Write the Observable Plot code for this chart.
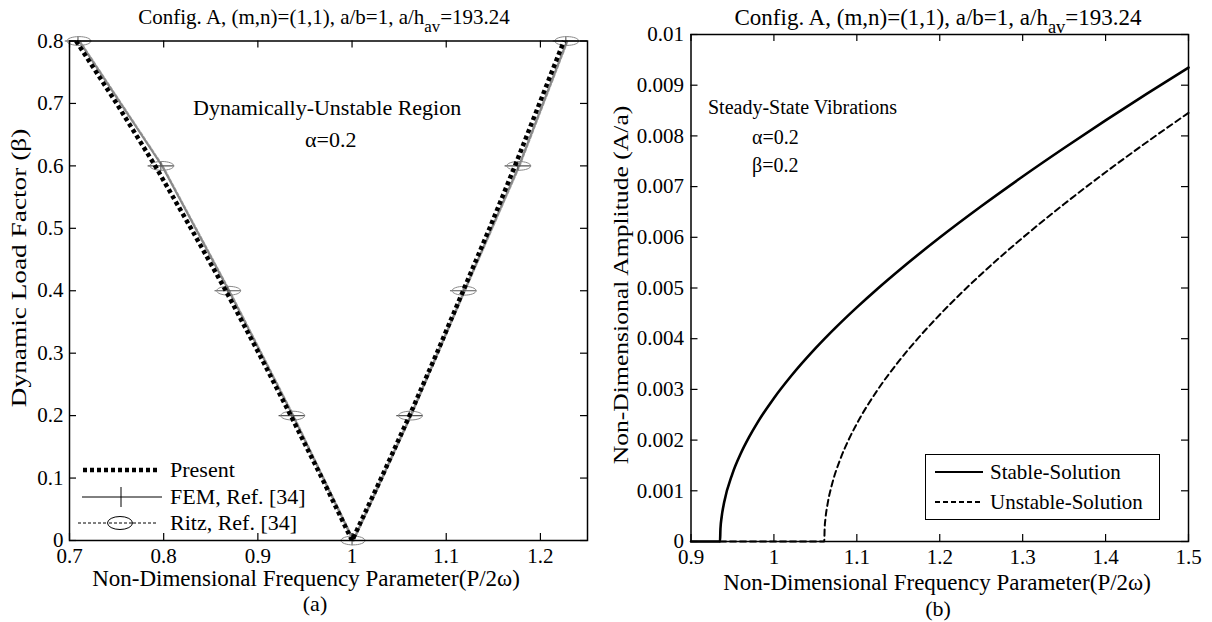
<!DOCTYPE html>
<html>
<head>
<meta charset="utf-8">
<script src="https://cdn.jsdelivr.net/npm/d3@7"></script>
<script src="https://cdn.jsdelivr.net/npm/@observablehq/plot@0.6"></script>
<style>
  html, body { margin: 0; padding: 0; background: #fff; }
  #wrap { position: relative; width: 1212px; height: 622px; overflow: hidden; font-family: "Liberation Serif", "DejaVu Serif", serif; color: #000; }
  .txt { position: absolute; white-space: nowrap; font-size: 21px; line-height: 1; }
  .c { transform: translate(-50%, -50%); }
  .l { transform: translate(0, -50%); }
  .rot { transform: translate(-50%, -50%) rotate(-90deg) scaleX(var(--sx, 1)); }
  .sub { font-size: 0.8em; position: relative; top: 0.45em; }
  .abs { position: absolute; }
</style>
</head>
<body>
<div id="wrap"></div>
<script>
// ---------- Panel (a) data ----------
const presentBeta  = [0, 0.1, 0.2, 0.3, 0.4, 0.5, 0.6, 0.7, 0.8];
const presentLeft  = [1.000, 0.968, 0.935, 0.901, 0.866, 0.829, 0.791, 0.750, 0.707];
const presentRight = [1.000, 1.031, 1.061, 1.090, 1.118, 1.146, 1.173, 1.199, 1.225];
const refBeta  = [0, 0.2, 0.4, 0.6, 0.8];
const femLeft  = [1.000, 0.936, 0.868, 0.797, 0.709];
const femRight = [1.000, 1.061, 1.118, 1.176, 1.227];
const ritzLeft  = [1.001, 0.937, 0.869, 0.798, 0.710];
const ritzRight = [1.001, 1.062, 1.119, 1.177, 1.228];
const xTicksA = [0.7, 0.8, 0.9, 1, 1.1, 1.2];
const yTicksA = [0, 0.1, 0.2, 0.3, 0.4, 0.5, 0.6, 0.7, 0.8];

// ---------- Panel (b) data ----------
const stableX = [0.9, 0.935, 0.9355, 0.937, 0.94, 0.95, 0.96, 0.97, 0.98, 1.0, 1.02, 1.05, 1.075, 1.1, 1.125, 1.15, 1.2, 1.25, 1.3, 1.35, 1.4, 1.45, 1.5];
const stableY = [0, 0, 0.000246, 0.000488, 0.000772, 0.00134, 0.001735, 0.002058, 0.00234, 0.002827, 0.003249, 0.003808, 0.004228, 0.004618, 0.004986, 0.005336, 0.005995, 0.006612, 0.007199, 0.007761, 0.008305, 0.008833, 0.009348];
const unstableX = [0.935, 1.0607, 1.0612, 1.062, 1.065, 1.07, 1.08, 1.09, 1.1, 1.125, 1.15, 1.175, 1.2, 1.25, 1.3, 1.35, 1.4, 1.45, 1.5];
const unstableY = [0, 0, 0.000269, 0.000425, 0.000766, 0.001124, 0.001622, 0.002002, 0.002324, 0.002989, 0.003542, 0.00403, 0.004473, 0.005272, 0.005991, 0.006656, 0.007283, 0.00788, 0.008454];
const xTicksB = [0.9, 1, 1.1, 1.2, 1.3, 1.4, 1.5];
const yTicksB = [0, 0.001, 0.002, 0.003, 0.004, 0.005, 0.006, 0.007, 0.008, 0.009, 0.01];

// ---------- helpers ----------
const FONT = "Liberation Serif";
const TICK = 7;

function boxTicks(xt, yt, pw, ph) {
  return [
    Plot.ruleX(xt, {x: d => d, insetTop: ph - TICK, stroke: "black", strokeWidth: 1.2}),
    Plot.ruleX(xt, {x: d => d, insetBottom: ph - TICK, stroke: "black", strokeWidth: 1.2}),
    Plot.ruleY(yt, {y: d => d, insetRight: pw - TICK, stroke: "black", strokeWidth: 1.2}),
    Plot.ruleY(yt, {y: d => d, insetLeft: pw - TICK, stroke: "black", strokeWidth: 1.2})
  ];
}

const plusSymbol = {
  draw(ctx, size) {
    const r = Math.sqrt(size / Math.PI);
    ctx.moveTo(-3.3 * r, 0); ctx.lineTo(3.3 * r, 0);
    ctx.moveTo(0, -1.2 * r); ctx.lineTo(0, 1.2 * r);
  }
};
const ellipseSymbol = {
  draw(ctx, size) {
    const r = Math.sqrt(size / Math.PI);
    const a = 3.0 * r, b = 1.1 * r, k = 0.5523;
    ctx.moveTo(a, 0);
    ctx.bezierCurveTo(a, k * b, k * a, b, 0, b);
    ctx.bezierCurveTo(-k * a, b, -a, k * b, -a, 0);
    ctx.bezierCurveTo(-a, -k * b, -k * a, -b, 0, -b);
    ctx.bezierCurveTo(k * a, -b, a, -k * b, a, 0);
    ctx.closePath();
  }
};

// ---------- Panel (a) ----------
const presentPts = presentBeta.map((b, i) => ({x: presentLeft[i], y: b})).reverse()
  .concat(presentBeta.map((b, i) => ({x: presentRight[i], y: b})).slice(1));
const femPts = refBeta.map((b, i) => ({x: femLeft[i], y: b})).reverse()
  .concat(refBeta.map((b, i) => ({x: femRight[i], y: b})).slice(1));
const ritzPts = refBeta.map((b, i) => ({x: ritzLeft[i], y: b})).reverse()
  .concat(refBeta.map((b, i) => ({x: ritzRight[i], y: b})).slice(1));

const A = {w: 600, h: 622, ml: 69, mr: 13, mt: 40.5, mb: 82};
const pwA = A.w - A.ml - A.mr, phA = A.h - A.mt - A.mb;
const plotA = Plot.plot({
  width: A.w, height: A.h,
  marginLeft: A.ml, marginRight: A.mr, marginTop: A.mt, marginBottom: A.mb,
  x: {domain: [0.7, 1.25]},
  y: {domain: [0, 0.8]},
  style: {fontFamily: FONT, fontSize: "21px", color: "black", background: "transparent", overflow: "visible"},
  marks: [
    Plot.line(ritzPts, {x: "x", y: "y", stroke: "#999", strokeWidth: 2, strokeDasharray: "3,2", dx: 0.8}),
    Plot.line(femPts, {x: "x", y: "y", stroke: "#888", strokeWidth: 1.8, dx: 1}),
    Plot.dot(femPts, {x: "x", y: "y", symbol: plusSymbol, r: 4, stroke: "#555", strokeWidth: 1.1, fill: "none"}),
    Plot.dot(ritzPts, {x: "x", y: "y", symbol: ellipseSymbol, r: 4, stroke: "#888", strokeWidth: 1, fill: "none"}),
    Plot.line(presentPts, {x: "x", y: "y", stroke: "black", strokeWidth: 4.5, strokeDasharray: "4,3", strokeLinecap: "butt"}),
    ...boxTicks(xTicksA, yTicksA, pwA, phA),
    Plot.frame({stroke: "black", strokeWidth: 1.5}),
    Plot.axisX(xTicksA, {tickSize: 0, tickPadding: 8, label: null, fontSize: 21, tickFormat: d => String(d)}),
    Plot.axisY(yTicksA, {tickSize: 0, tickPadding: 6, label: null, fontSize: 21, tickFormat: d => String(d)})
  ]
});

// ---------- Panel (b) ----------
const stablePts = stableX.map((x, i) => ({x, y: stableY[i]}));
const unstablePts = unstableX.map((x, i) => ({x, y: unstableY[i]}));
const B = {w: 612, h: 622, ml: 90.5, mr: 24, mt: 34, mb: 81};
const pwB = B.w - B.ml - B.mr, phB = B.h - B.mt - B.mb;
const plotB = Plot.plot({
  width: B.w, height: B.h,
  marginLeft: B.ml, marginRight: B.mr, marginTop: B.mt, marginBottom: B.mb,
  x: {domain: [0.9, 1.5]},
  y: {domain: [0, 0.01]},
  style: {fontFamily: FONT, fontSize: "21px", color: "black", background: "transparent", overflow: "visible"},
  marks: [
    Plot.line(unstablePts, {x: "x", y: "y", stroke: "black", strokeWidth: 2, strokeDasharray: "6,4", curve: "monotone-x"}),
    Plot.line(stablePts, {x: "x", y: "y", stroke: "black", strokeWidth: 2.6, curve: "monotone-x"}),
    ...boxTicks(xTicksB, yTicksB, pwB, phB),
    Plot.frame({stroke: "black", strokeWidth: 1.5}),
    Plot.axisX(xTicksB, {tickSize: 0, tickPadding: 8, label: null, fontSize: 21, tickFormat: d => String(d)}),
    Plot.axisY(yTicksB, {tickSize: 0, tickPadding: 7, label: null, fontSize: 21, tickFormat: d => String(d)})
  ]
});

const wrap = document.getElementById("wrap");
function place(el, left, top) {
  el.style.position = "absolute"; el.style.left = left + "px"; el.style.top = top + "px";
  wrap.appendChild(el);
}
place(plotA, 0, 0);
place(plotB, 600, 0);

function txt(html, x, y, cls, size, sx) {
  const d = document.createElement("div");
  d.className = "txt " + cls;
  d.innerHTML = html;
  d.style.left = x + "px"; d.style.top = y + "px";
  if (size) d.style.fontSize = size + "px";
  if (sx) d.style.setProperty("--sx", sx);
  wrap.appendChild(d);
  return d;
}

const titleHTML = 'Config. A, (m,n)=(1,1), a/b=1, a/h<span class="sub">av</span>=193.24';
txt(titleHTML, 324, 17, "c", 21);
txt(titleHTML, 938, 17, "c", 23);

txt("Dynamic Load Factor (&beta;)", 19, 268, "rot", 21, 1.3);
txt("Non-Dimensional Amplitude (A/a)", 621, 285, "rot", 21, 1.22);

txt("Non-Dimensional Frequency Parameter(P/2&omega;)", 306, 578, "c", 23);
txt("(a)", 315, 604, "c", 22);
txt("Non-Dimensional Frequency Parameter(P/2&omega;)", 937, 582, "c", 23);
txt("(b)", 938, 609, "c", 22);

txt("Dynamically-Unstable Region", 193, 108, "l", 22);
txt("&alpha;=0.2", 305, 140, "l", 22);

txt("Steady-State Vibrations", 708, 107, "l", 20);
txt("&alpha;=0.2", 752, 137, "l", 20);
txt("&beta;=0.2", 752, 165, "l", 20);

// ---------- Legend (a) ----------
const ns = "http://www.w3.org/2000/svg";
function glyphSvg(x, y, w, h, inner) {
  const s = document.createElementNS(ns, "svg");
  s.setAttribute("width", w); s.setAttribute("height", h);
  s.style.position = "absolute"; s.style.left = x + "px"; s.style.top = y + "px";
  s.innerHTML = inner;
  wrap.appendChild(s);
}
glyphSvg(78, 455, 90, 80,
  '<line x1="5" y1="15" x2="80" y2="15" stroke="black" stroke-width="4.5" stroke-dasharray="4,3"/>' +
  '<line x1="4" y1="42" x2="84" y2="42" stroke="black" stroke-width="1"/>' +
  '<line x1="43" y1="32" x2="43" y2="52" stroke="black" stroke-width="1"/>' +
  '<line x1="0" y1="68" x2="80" y2="68" stroke="black" stroke-width="1" stroke-dasharray="3,2"/>' +
  '<ellipse cx="42" cy="68" rx="12.5" ry="6.5" fill="white" stroke="black" stroke-width="1"/>' +
  '<line x1="31" y1="68" x2="54" y2="68" stroke="black" stroke-width="1" stroke-dasharray="3,2"/>');
txt("Present", 170, 470, "l", 22);
txt("FEM, Ref. [34]", 170, 497, "l", 22);
txt("Ritz, Ref. [34]", 170, 523, "l", 22);

// ---------- Legend (b) ----------
const lb = document.createElement("div");
lb.className = "abs";
lb.style.left = "925px"; lb.style.top = "454px"; lb.style.width = "233px"; lb.style.height = "64px";
lb.style.border = "1px solid black"; lb.style.background = "white";
wrap.appendChild(lb);
glyphSvg(933, 460, 54, 52,
  '<line x1="2" y1="12" x2="50" y2="12" stroke="black" stroke-width="2"/>' +
  '<line x1="2" y1="42" x2="50" y2="42" stroke="black" stroke-width="2" stroke-dasharray="5,3"/>');
txt("Stable-Solution", 990, 472, "l", 21);
txt("Unstable-Solution", 990, 502, "l", 21);
</script>
</body>
</html>
